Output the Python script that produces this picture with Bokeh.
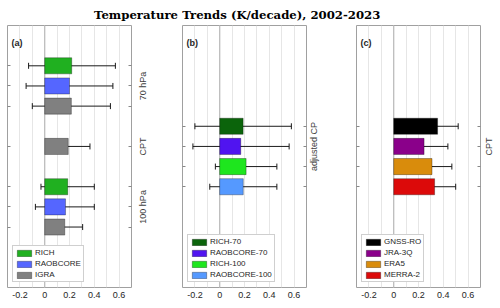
import math
from bokeh.plotting import figure
from bokeh.models import (ColumnDataSource, Range1d, LinearAxis, FixedTicker, Whisker,
                          TeeHead, Span, Label, Legend)
from bokeh.core.properties import value
from bokeh.layouts import row, column
from bokeh.embed import file_html
from bokeh.resources import INLINE

# ---------------- data ----------------
title_text = "Temperature Trends (K/decade), 2002-2023"
x_ticks = [-0.2, 0, 0.2, 0.4, 0.6]
x_tick_labels = ["-0.2", "0", "0.2", "0.4", "0.6"]
x_grid = [-0.2, -0.1, 0.0, 0.1, 0.2, 0.3, 0.4, 0.5, 0.6]

a_series = ["RICH", "RAOBCORE", "IGRA", "IGRA", "RICH", "RAOBCORE", "IGRA"]
a_group = ["70 hPa", "70 hPa", "70 hPa", "CPT", "100 hPa", "100 hPa", "100 hPa"]
a_trend = [0.218, 0.200, 0.215, 0.190, 0.186, 0.168, 0.162]
a_low = [-0.13, -0.15, -0.10, 0.02, -0.03, -0.075, 0.013]
a_high = [0.57, 0.55, 0.53, 0.365, 0.40, 0.40, 0.306]
a_legend = ["RICH", "RAOBCORE", "IGRA"]

b_series = ["RICH-70", "RAOBCORE-70", "RICH-100", "RAOBCORE-100"]
b_group = ["adjusted CP"] * 4
b_trend = [0.189, 0.170, 0.213, 0.190]
b_low = [-0.20, -0.216, -0.035, -0.08]
b_high = [0.578, 0.56, 0.461, 0.461]

c_series = ["GNSS-RO", "JRA-3Q", "ERA5", "MERRA-2"]
c_group = ["CPT"] * 4
c_trend = [0.354, 0.245, 0.309, 0.330]
c_low = [0.188, 0.053, 0.149, 0.155]
c_high = [0.520, 0.437, 0.469, 0.500]

# ---------------- styles ----------------
colors = {
    "RICH": "#20b020", "RAOBCORE": "#5566ff", "IGRA": "#808080",
    "RICH-70": "#0b640b", "RAOBCORE-70": "#5014f0", "RICH-100": "#1ee61e",
    "RAOBCORE-100": "#5599ff",
    "GNSS-RO": "#000000", "JRA-3Q": "#8a008a", "ERA5": "#d98c0c", "MERRA-2": "#dc0a0a",
}
FONT = "Liberation Sans"
FRAME_W, FRAME_H = 124, 262
BOTTOM = 20
N_SLOTS = 13
TOTAL_W = 498
TITLE_H = 25


def make_rows(groups, start):
    rows, r, prev = [], start, None
    for g in groups:
        if prev is not None:
            r += 1 if g == prev else 2
        rows.append(r)
        prev = g
    return rows


def make_panel(tag, series, groups, trend, low, high, legend_order, start,
               border_left, strip_w, text_x):
    rows = make_rows(groups, start)
    p = figure(frame_width=FRAME_W, frame_height=FRAME_H,
               x_range=Range1d(-0.3, 0.7), y_range=Range1d(N_SLOTS, 0),
               output_backend="svg", toolbar_location=None,
               min_border_left=border_left, min_border_right=2,
               min_border_top=0, min_border_bottom=BOTTOM)
    p.outline_line_color = "#a0a0a0"
    p.outline_line_width = 1
    p.background_fill_color = "white"
    p.border_fill_color = "white"

    # grid
    p.ygrid.visible = False
    p.xgrid.ticker = FixedTicker(ticks=x_grid)
    p.xgrid.grid_line_color = "#e6e6e6"
    p.xgrid.grid_line_width = 1

    zero = Span(location=0, dimension="height", line_color="#bdbdbd",
                line_width=1.3, level="underlay")
    p.add_layout(zero)

    # bottom axis
    xa = p.xaxis[0]
    xa.ticker = FixedTicker(ticks=x_ticks)
    xa.major_label_overrides = {float(t): l for t, l in zip(x_ticks, x_tick_labels)}
    xa.major_label_text_font = FONT
    xa.major_label_text_font_size = "9px"
    xa.major_label_text_color = "#262626"
    xa.major_label_standoff = 4
    xa.axis_line_color = None
    xa.major_tick_in = 0
    xa.major_tick_out = 0
    xa.minor_tick_line_color = None

    # left and right axes: inward ticks only
    for side in ("left", "right"):
        if side == "left":
            ax = p.yaxis[0]
            ax.ticker = FixedTicker(ticks=rows)
        else:
            ax = LinearAxis(ticker=FixedTicker(ticks=rows))
            p.add_layout(ax, "right")
        ax.major_label_overrides = {float(r): "" for r in rows}
        ax.major_label_text_font_size = "1px"
        ax.major_label_standoff = 0
        ax.axis_line_color = None
        ax.major_tick_in = 3
        ax.major_tick_out = 0
        ax.major_tick_line_color = "#888888"
        ax.minor_tick_line_color = None

    # bars per series
    items = []
    for s in legend_order:
        idx = [i for i, ss in enumerate(series) if ss == s]
        src = ColumnDataSource(dict(y=[rows[i] for i in idx],
                                    right=[trend[i] for i in idx]))
        r = p.hbar(y="y", left=0, right="right", height=0.8, source=src,
                   fill_color=colors[s], line_color="#000000", line_alpha=0.3,
                   line_width=1)
        items.append((s, [r]))

    esrc = ColumnDataSource(dict(y=rows, lo=low, hi=high))
    w = Whisker(source=esrc, base="y", lower="lo", upper="hi", dimension="width",
                line_color="#1a1a1a", line_width=1,
                upper_head=TeeHead(size=6, line_color="#1a1a1a", line_width=1),
                lower_head=TeeHead(size=6, line_color="#1a1a1a", line_width=1))
    p.add_layout(w)

    leg = Legend(items=items, location=(5, 5))
    leg.label_text_font = FONT
    leg.label_text_font_size = "8px"
    leg.label_text_color = "#262626"
    leg.glyph_width = 18
    leg.glyph_height = 8
    leg.label_height = 9
    leg.label_standoff = 2
    leg.spacing = 2
    leg.padding = 2
    leg.margin = 0
    leg.border_line_color = "#a0a0a0"
    leg.background_fill_alpha = 1
    p.add_layout(leg, "center")

    p.add_layout(Label(x=-0.268, y=0.88, text=tag, text_font=FONT,
                       text_font_size="9px", text_font_style="bold",
                       text_baseline="middle", text_color="#262626"))

    # strip with the group labels (shares the y range)
    glabels, gpos = [], []
    for g in groups:
        if g in glabels:
            continue
        grows = [r for r, gg in zip(rows, groups) if gg == g]
        glabels.append(g)
        gpos.append(grows[(len(grows) - 1) // 2])
    s = figure(width=strip_w, frame_height=FRAME_H, x_range=Range1d(0, strip_w),
               y_range=p.y_range, output_backend="svg", toolbar_location=None,
               min_border_left=0, min_border_right=0, min_border_top=0,
               min_border_bottom=BOTTOM, x_axis_location=None, y_axis_location=None)
    s.grid.visible = False
    s.outline_line_color = None
    s.text(x=[text_x] * len(gpos), y=gpos, text=glabels, angle=math.pi / 2,
           text_align="center", text_baseline="middle", text_font=value(FONT),
           text_font_size="9px", text_color="#404040")
    return p, s


pa, sa = make_panel("(a)", a_series, a_group, a_trend, a_low, a_high, a_legend, 2, 7, 18, 9)
pb, sb = make_panel("(b)", b_series, b_group, b_trend, b_low, b_high, b_series, 5, 31, 18, 5)
pc, sc = make_panel("(c)", c_series, c_group, c_trend, c_low, c_high, c_series, 5, 30, 16, 6)

# title strip
pt = figure(width=TOTAL_W, height=TITLE_H, x_range=Range1d(0, TOTAL_W),
            y_range=Range1d(0, TITLE_H),
            output_backend="svg", toolbar_location=None, min_border=0,
            x_axis_location=None, y_axis_location=None)
pt.grid.visible = False
pt.outline_line_color = None
pt.add_layout(Label(x=236.7, y=10.5, text=title_text, text_font="DejaVu Serif",
                    text_font_size="11.7px", text_font_style="bold",
                    text_align="center", text_baseline="alphabetic",
                    text_color="#000000"))

layout = column(pt, row(pa, sa, pb, sb, pc, sc))
open("out.html", "w").write(file_html(layout, INLINE))
